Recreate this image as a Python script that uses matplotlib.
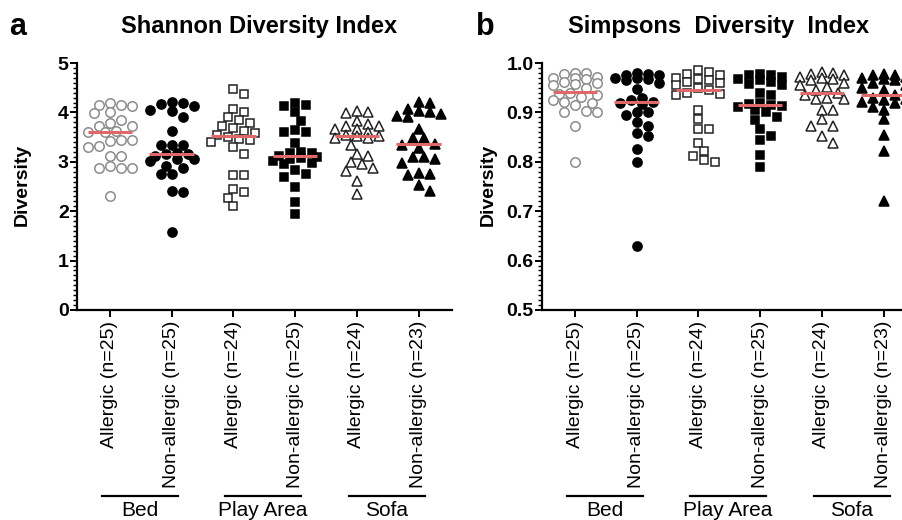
import numpy as np
import matplotlib
matplotlib.use("Agg")
import matplotlib.pyplot as plt
from matplotlib.ticker import MultipleLocator, FormatStrFormatter

plt.rcParams['font.family'] = ['Liberation Sans', 'DejaVu Sans']

# < data >---------------------------------------------------------------------

GROUP_LABELS = ["Allergic (n=25)", "Non-allergic (n=25)",
                "Allergic (n=24)", "Non-allergic (n=25)",
                "Allergic (n=24)", "Non-allergic (n=23)"]
LOCATIONS = ["Bed", "Play Area", "Sofa"]

# shannon diversity index, one list per group
shannon = [
    [4.2, 4.15, 4.15, 4.12, 4.0, 3.98, 3.85, 3.78, 3.72, 3.72, 3.62, 3.6, 3.6,
     3.45, 3.45, 3.42, 3.32, 3.3, 3.12, 3.12, 2.92, 2.88, 2.88, 2.88, 2.31],
    [4.22, 4.2, 4.17, 4.12, 4.05, 4.02, 3.9, 3.63, 3.35, 3.35, 3.33, 3.18, 3.15,
     3.15, 3.12, 3.05, 3.05, 3.02, 2.92, 2.88, 2.75, 2.75, 2.4, 2.38, 1.58],
    [4.47, 4.37, 4.06, 4.01, 3.9, 3.85, 3.78, 3.72, 3.68, 3.62, 3.58, 3.55,
     3.5, 3.47, 3.45, 3.4, 3.3, 3.15, 2.73, 2.73, 2.45, 2.38, 2.27, 2.1],
    [4.2, 4.15, 4.12, 4.01, 3.83, 3.64, 3.6, 3.6, 3.38, 3.2, 3.18, 3.18, 3.12,
     3.1, 3.08, 3.05, 3.02, 2.98, 2.95, 2.83, 2.75, 2.7, 2.5, 2.19, 1.94],
    [4.03, 4.0, 3.99, 3.82, 3.77, 3.72, 3.72, 3.66, 3.66, 3.6, 3.55, 3.52,
     3.52, 3.48, 3.48, 3.34, 3.15, 3.12, 2.99, 2.96, 2.87, 2.82, 2.62, 2.35],
    [4.22, 4.19, 4.07, 4.02, 4.0, 3.96, 3.92, 3.9, 3.66, 3.48, 3.48, 3.36,
     3.33, 3.28, 3.1, 3.1, 3.05, 2.97, 2.78, 2.76, 2.74, 2.53, 2.4],
]
shannon_median = [3.6, 3.15, 3.52, 3.12, 3.52, 3.36]

# simpsons diversity index
simpson = [
    [0.98, 0.98, 0.978, 0.972, 0.97, 0.97, 0.968, 0.962, 0.96, 0.958, 0.955,
     0.95, 0.94, 0.938, 0.935, 0.932, 0.925, 0.922, 0.92, 0.915, 0.902, 0.9,
     0.9, 0.873, 0.80],
    [0.98, 0.978, 0.975, 0.975, 0.97, 0.97, 0.968, 0.965, 0.96, 0.948, 0.93,
     0.925, 0.922, 0.92, 0.918, 0.9, 0.9, 0.895, 0.88, 0.872, 0.858, 0.852,
     0.825, 0.8, 0.63],
    [0.985, 0.982, 0.978, 0.975, 0.97, 0.968, 0.965, 0.962, 0.96, 0.955, 0.95,
     0.945, 0.94, 0.938, 0.935, 0.905, 0.886, 0.866, 0.866, 0.838, 0.822,
     0.812, 0.803, 0.8],
    [0.978, 0.975, 0.975, 0.972, 0.968, 0.965, 0.962, 0.958, 0.955, 0.94,
     0.935, 0.92, 0.918, 0.915, 0.912, 0.91, 0.905, 0.9, 0.89, 0.885, 0.866,
     0.852, 0.845, 0.813, 0.79],
    [0.982, 0.98, 0.978, 0.975, 0.972, 0.97, 0.968, 0.965, 0.96, 0.955, 0.952,
     0.945, 0.94, 0.935, 0.93, 0.928, 0.928, 0.905, 0.905, 0.886, 0.873,
     0.873, 0.853, 0.839],
    [0.978, 0.975, 0.975, 0.972, 0.97, 0.968, 0.965, 0.96, 0.955, 0.95, 0.945,
     0.935, 0.93, 0.928, 0.925, 0.922, 0.92, 0.91, 0.905, 0.886, 0.855, 0.821,
     0.72],
]
simpson_median = [0.942, 0.922, 0.945, 0.915, 0.94, 0.935]

# < styles >-------------------------------------------------------------------

STYLES = [
    dict(marker='o', mfc='white', mec='#8c8c8c', ms=6.8),
    dict(marker='o', mfc='black', mec='black', ms=6.6),
    dict(marker='s', mfc='white', mec='#222222', ms=6.3),
    dict(marker='s', mfc='black', mec='black', ms=6.3),
    dict(marker='^', mfc='white', mec='#222222', ms=7.3),
    dict(marker='^', mfc='black', mec='black', ms=7.3),
]
RED = '#e06868'

FIG_W, FIG_H = 902, 520


# -----------------------------------------------------------------------------
def swarm_offsets(values, px_per_unit_y, px_per_unit_x, gap_px=11.0,
                  hy_px=9.0, max_steps=4):
    """ beeswarm-like layout, width limited; overlap allowed when crowded """
    vals = np.asarray(values)
    order = np.argsort(vals)[::-1]
    steps = [0]
    for k in range(1, max_steps + 1):
        steps += [k, -k]
    placed = []
    offsets = np.zeros(len(vals))
    for i in order:
        y = vals[i] * px_per_unit_y
        best, best_pen = 0.0, None
        for k in steps:
            x = k * gap_px / 2
            pen = 0.0
            for px, py in placed:
                r = ((x - px) / gap_px) ** 2 + ((y - py) / hy_px) ** 2
                if r < 1:
                    pen += 1 - r
            if pen == 0:
                best, best_pen = x, 0
                break
            if best_pen is None or pen < best_pen - 1e-9:
                best, best_pen = x, pen
        placed.append((best, y))
        offsets[i] = best / px_per_unit_x
    return offsets


# -----------------------------------------------------------------------------
def draw_panel(fig, left_px, right_px, ylo, yhi, data, medians, ymajor, yminor,
               fmt, title, title_x, letter, letter_x, ylabel_x):
    top_px, bot_px = 63, 310
    ax = fig.add_axes([left_px / FIG_W, 1 - bot_px / FIG_H,
                       (right_px - left_px) / FIG_W, (bot_px - top_px) / FIG_H])
    ax.patch.set_alpha(0)

    tick0_px = left_px + 33
    step_px = 61.7
    xlo = (left_px - tick0_px) / step_px
    xhi = (right_px - tick0_px) / step_px
    ax.set_xlim(xlo, xhi)
    ax.set_ylim(ylo, yhi)

    ppy = (bot_px - top_px) / (yhi - ylo)
    for i, vals in enumerate(data):
        vals = np.array(vals)
        offs = swarm_offsets(vals, ppy, step_px)
        ax.plot(i + offs, vals, ls='none', mew=1.1, clip_on=False, zorder=3,
                **STYLES[i])
        ax.plot([i - 0.36, i + 0.36], [medians[i], medians[i]], color=RED,
                lw=2.2, zorder=4, solid_capstyle='butt')

    for s in ['top', 'right']:
        ax.spines[s].set_visible(False)
    for s in ['left', 'bottom']:
        ax.spines[s].set_linewidth(1.6)

    ax.yaxis.set_major_locator(MultipleLocator(ymajor))
    ax.yaxis.set_minor_locator(MultipleLocator(yminor))
    ax.yaxis.set_major_formatter(FormatStrFormatter(fmt))
    ax.tick_params(axis='y', which='major', direction='out', length=5, width=1.4,
                   labelsize=14, pad=1)
    ax.tick_params(axis='y', which='minor', direction='out', length=3, width=1.0)
    for lab in ax.get_yticklabels():
        lab.set_fontweight('bold')

    ax.set_xticks(range(len(GROUP_LABELS)))
    ax.set_xticklabels(GROUP_LABELS, rotation=90, fontsize=14, va='top')
    ax.tick_params(axis='x', direction='out', length=5, width=1.4, pad=3)

    # location brackets under the tick labels
    h_px = bot_px - top_px
    y_line = (FIG_H - 496 - (FIG_H - bot_px)) / h_px
    y_text = (FIG_H - 511 - (FIG_H - bot_px)) / h_px
    tr = ax.get_xaxis_transform()
    for j, loc in enumerate(LOCATIONS):
        a, b = 2 * j, 2 * j + 1
        ax.plot([a - 0.13, b + 0.1], [y_line, y_line], color='black', lw=1.6,
                transform=tr, clip_on=False)
        ax.text((a + b) / 2 - 0.02, y_text, loc, transform=tr, ha='center',
                va='center', fontsize=15)

    fig.text(ylabel_x / FIG_W, 1 - 185 / FIG_H, 'Diversity', rotation=90,
             ha='center', va='center', fontsize=14, fontweight='bold')
    fig.text(title_x / FIG_W, 1 - 27 / FIG_H, title, ha='center', va='center',
             fontsize=17, fontweight='bold')
    fig.text(letter_x / FIG_W, 1 - 27 / FIG_H, letter, ha='left', va='center',
             fontsize=22, fontweight='bold')
    return ax


# -----------------------------------------------------------------------------
def main():
    fig = plt.figure(figsize=(FIG_W / 100, FIG_H / 100), dpi=100)

    draw_panel(fig, 77, 452, 0, 5, shannon, shannon_median, 1, 0.1, '%d',
               'Shannon Diversity Index', 259, 'a', 9, 22)
    draw_panel(fig, 542, 915, 0.5, 1.0, simpson, simpson_median, 0.1, 0.01,
               '%.1f', 'Simpsons  Diversity  Index', 719, 'b', 476, 488)

    fig.savefig('out.png', dpi=100)


if __name__ == "__main__":
    main()
